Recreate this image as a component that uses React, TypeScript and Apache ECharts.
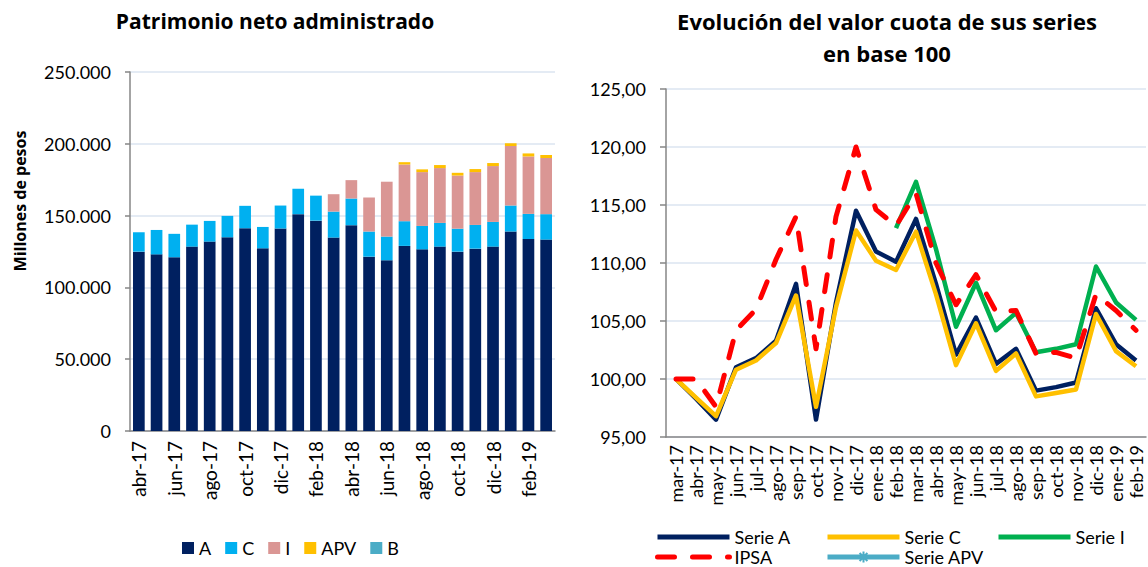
import React, { useEffect, useRef } from "react";
import * as echarts from "echarts";

const barMonths = ["abr-17","may-17","jun-17","jul-17","ago-17","sep-17","oct-17","nov-17","dic-17","ene-18","feb-18","mar-18","abr-18","may-18","jun-18","jul-18","ago-18","sep-18","oct-18","nov-18","dic-18","ene-19","feb-19","mar-19"];
const barA = [124900,123000,121000,128400,131900,134900,141200,127200,141000,151000,146500,134700,143300,121400,118900,128900,126500,128400,124900,127000,128400,138900,133700,133300];
const barC = [13500,17000,16300,15300,14400,14900,15600,14900,16000,17700,17400,18100,18600,17500,16500,17200,16300,16500,16000,16500,17200,18100,17500,17700];
const barI = [0,0,0,0,0,0,0,0,0,0,0,12100,12800,23700,38200,39500,37500,38200,37000,36800,38900,41400,40000,39100];
const barAPV = [0,0,0,0,0,0,0,0,0,0,0,0,0,0,0,1600,1900,2100,1900,2100,2100,1900,2100,2100];
const barB = [0,0,0,0,0,0,0,0,0,0,0,0,0,0,0,0,0,0,0,0,0,0,0,0];

const lineMonths = ["mar-17","abr-17","may-17","jun-17","jul-17","ago-17","sep-17","oct-17","nov-17","dic-17","ene-18","feb-18","mar-18","abr-18","may-18","jun-18","jul-18","ago-18","sep-18","oct-18","nov-18","dic-18","ene-19","feb-19"];
const serieA = [100,98.3,96.5,101.0,101.8,103.3,108.2,96.5,106.6,114.5,111.0,110.1,113.8,108.2,102.1,105.3,101.3,102.6,99.0,99.3,99.7,106.1,103.0,101.6];
const serieC = [100,98.4,96.8,100.8,101.6,103.1,107.2,97.6,106.2,112.8,110.2,109.4,112.7,107.3,101.2,104.8,100.7,102.2,98.5,98.8,99.1,105.6,102.4,101.1];
const serieI = [null,null,null,null,null,null,null,null,null,null,null,113.0,117.0,111.2,104.5,108.3,104.2,105.7,102.3,102.6,103.0,109.7,106.6,105.1];
const ipsa = [100,100,97.6,104.2,106.0,110.3,114.0,102.6,114.0,120.0,114.6,113.2,116.0,110.0,106.4,109.0,105.8,105.9,102.2,102.3,101.8,107.3,105.9,104.2];
const serieAPV: (number | null)[] = [];

const FONT = "Lato, 'Open Sans', sans-serif";
const TFONT = "'Open Sans', Lato, sans-serif";
const fmtThousands = (v: number) => String(v).replace(/\B(?=(\d{3})+(?!\d))/g, ".");
const fmtComma = (v: number) => v.toFixed(2).replace(".", ",");

export default function App() {
  const ref = useRef<HTMLDivElement>(null);
  useEffect(() => {
    if (!ref.current) return;
    const chart = echarts.init(ref.current, undefined, { renderer: "svg" });
    const axisColor = "#868686";
    const gridColor = "#dbe5f1";
    const lab = { color: "#000", fontFamily: FONT };
    const legendText = { color: "#000", fontFamily: FONT, fontSize: 18, lineHeight: 18 };
    const rightLegend = (name: string, left: number, top: number, showSymbol: boolean, lh: number) => ({
      data: [name], left, top, itemWidth: 72, itemHeight: 14, padding: 0,
      textStyle: { ...legendText, lineHeight: lh },
      lineStyle: { width: 5 },
      itemStyle: showSymbol ? {} : { opacity: 0 },
    });
    chart.setOption({
      animation: false,
      backgroundColor: "#fff",
      grid: [
        { left: 130, top: 72, width: 425, height: 359 },
        { left: 666, top: 89, width: 480, height: 348 },
      ],
      xAxis: [
        {
          type: "category", gridIndex: 0, data: barMonths,
          axisLine: { lineStyle: { color: axisColor, width: 1.5 } },
          axisTick: { interval: 1, length: 6, lineStyle: { color: axisColor, width: 1.5 } },
          axisLabel: { ...lab, interval: 1, rotate: 90, margin: 10, fontSize: 19 },
        },
        {
          type: "category", gridIndex: 1, data: lineMonths,
          axisLine: { lineStyle: { color: axisColor, width: 1.5 } },
          axisTick: { interval: 0, length: 6, lineStyle: { color: axisColor, width: 1.5 } },
          axisLabel: { ...lab, interval: 0, rotate: 90, margin: 8, fontSize: 18 },
        },
      ],
      yAxis: [
        {
          type: "value", gridIndex: 0, min: 0, max: 250000, interval: 50000,
          axisLine: { show: true, lineStyle: { color: axisColor, width: 1.5 } },
          axisTick: { show: true, length: 5, lineStyle: { color: axisColor, width: 1.5 } },
          splitLine: { lineStyle: { color: gridColor, width: 1.5 } },
          axisLabel: { ...lab, fontSize: 18, margin: 19, formatter: (v: number) => fmtThousands(v) },
        },
        {
          type: "value", gridIndex: 1, min: 95, max: 125, interval: 5,
          axisLine: { show: true, lineStyle: { color: axisColor, width: 1.5 } },
          axisTick: { show: true, length: 6, lineStyle: { color: axisColor, width: 1.5 } },
          splitLine: { lineStyle: { color: gridColor, width: 1.5 } },
          axisLabel: { ...lab, fontSize: 18, margin: 20, formatter: (v: number) => fmtComma(v) },
        },
      ],
      legend: [
        {
          data: ["A", "C", "I", "APV", "B"], left: 182, top: 539, icon: "rect",
          itemWidth: 12, itemHeight: 12, itemGap: 14, padding: 0, textStyle: legendText,
        },
        rightLegend("Serie A", 655, 528, false, 18),
        rightLegend("Serie C", 825, 528, false, 18),
        rightLegend("Serie I", 996, 528, false, 18),
        rightLegend("IPSA", 655, 548, false, 16),
        rightLegend("Serie APV", 825, 548, true, 16),
      ],
      graphic: [
        { type: "text", x: 275, y: 21, style: { text: "Patrimonio neto administrado", font: `bold 21px ${TFONT}`, fill: "#000", align: "center", verticalAlign: "middle" } },
        { type: "text", x: 887, y: 21, style: { text: "Evolución del valor cuota de sus series", font: `bold 22px ${TFONT}`, fill: "#000", align: "center", verticalAlign: "middle" } },
        { type: "text", x: 887, y: 53, style: { text: "en base 100", font: `bold 22px ${TFONT}`, fill: "#000", align: "center", verticalAlign: "middle" } },
        { type: "text", x: 20, y: 201, rotation: Math.PI / 2, style: { text: "Millones de pesos", font: `bold 16px ${TFONT}`, fill: "#000", align: "center", verticalAlign: "middle" } },
      ],
      series: [
        { name: "A", type: "bar", stack: "t", xAxisIndex: 0, yAxisIndex: 0, data: barA, barCategoryGap: "34%", itemStyle: { color: "#002060" } },
        { name: "C", type: "bar", stack: "t", xAxisIndex: 0, yAxisIndex: 0, data: barC, itemStyle: { color: "#00B0F0" } },
        { name: "I", type: "bar", stack: "t", xAxisIndex: 0, yAxisIndex: 0, data: barI, itemStyle: { color: "#DA9694" } },
        { name: "APV", type: "bar", stack: "t", xAxisIndex: 0, yAxisIndex: 0, data: barAPV, itemStyle: { color: "#FFC000" } },
        { name: "B", type: "bar", stack: "t", xAxisIndex: 0, yAxisIndex: 0, data: barB, itemStyle: { color: "#4BACC6" } },
        { name: "Serie A", type: "line", xAxisIndex: 1, yAxisIndex: 1, data: serieA, symbol: "none", color: "#002060", lineStyle: { width: 4.5, color: "#002060", join: "round" } },
        { name: "Serie C", type: "line", xAxisIndex: 1, yAxisIndex: 1, data: serieC, symbol: "none", color: "#FFC000", lineStyle: { width: 4.5, color: "#FFC000", join: "round" } },
        { name: "Serie I", type: "line", xAxisIndex: 1, yAxisIndex: 1, data: serieI, symbol: "none", color: "#00B050", lineStyle: { width: 4.5, color: "#00B050", join: "round" } },
        { name: "IPSA", type: "line", xAxisIndex: 1, yAxisIndex: 1, data: ipsa, symbol: "none", color: "#FF0000", lineStyle: { width: 5, color: "#FF0000", type: [17, 18], cap: "round", join: "round" } },
        {
          name: "Serie APV", type: "line", xAxisIndex: 1, yAxisIndex: 1, data: serieAPV,
          symbol: "path://M5 0L5 10M0 5L10 5M1.5 1.5L8.5 8.5M8.5 1.5L1.5 8.5", symbolSize: 10,
          color: "#4BACC6",
          itemStyle: { color: "#4BACC6", borderColor: "#4BACC6", borderWidth: 1.5 },
          lineStyle: { width: 4.5, color: "#4BACC6" },
        },
      ],
    });
    return () => chart.dispose();
  }, []);
  return <div ref={ref} style={{ position: "absolute", left: 0, top: 0, width: 1148, height: 567 }} />;
}
